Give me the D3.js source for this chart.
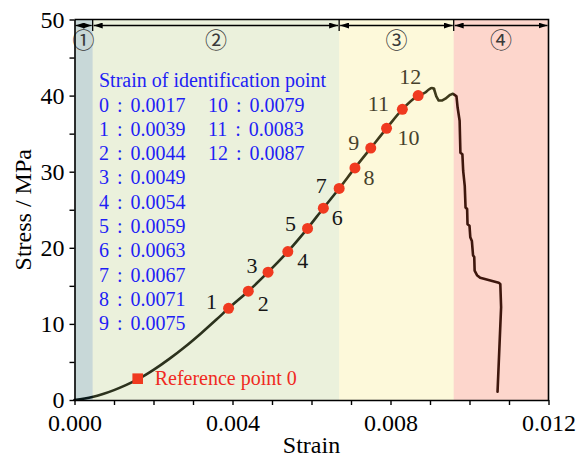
<!DOCTYPE html>
<html>
<head>
<meta charset="utf-8">
<script src="https://cdn.jsdelivr.net/npm/d3@7"></script>
<style>
  html, body { margin: 0; padding: 0; background: #fff; }
  svg { display: block; }
  text { font-family: "Liberation Serif", "Times New Roman", serif; }
</style>
</head>
<body>
<svg id="chart" width="578" height="462"></svg>
<script>
// ---------------- data ----------------
const riseStrain = [0, 0.00045, 0.0007, 0.0010, 0.0013, 0.0016, 0.0020, 0.0024, 0.0028, 0.0032, 0.0036,
  0.0039, 0.0044, 0.0049, 0.0054, 0.0059, 0.0063, 0.0067, 0.0071, 0.0075, 0.0079, 0.0083, 0.0087,
  0.00888, 0.00897, 0.00905, 0.0091];
const riseStress = [0, 0.4, 0.75, 1.3, 1.95, 2.7, 3.95, 5.4, 7.0, 8.75, 10.6,
  12.05, 14.3, 16.8, 19.5, 22.55, 25.2, 27.8, 30.5, 33.1, 35.7, 38.2, 40.0,
  40.4, 40.8, 41.0, 40.9];
const failStrain = [0.0091, 0.00916, 0.00922, 0.0093, 0.00939, 0.00951, 0.00958, 0.00962,
  0.00967, 0.0097, 0.00975, 0.00977, 0.00982, 0.00984, 0.00988, 0.0099, 0.00994, 0.00995, 0.0100,
  0.01002, 0.01006, 0.01009, 0.01012, 0.01013, 0.01019, 0.01027, 0.01074, 0.01078, 0.0108, 0.01071];
const failStress = [40.9, 39.9, 39.35, 39.35, 39.6, 40.1, 40.25, 40.1,
  39.9, 38.4, 36.7, 32.5, 32.3, 30.1, 28.1, 25.3, 25.1, 23.1, 22.9,
  21.4, 20.9, 19.0, 18.8, 17.0, 16.4, 16.05, 15.4, 15.25, 12.2, 1.1];

const pointIds = [1, 2, 3, 4, 5, 6, 7, 8, 9, 10, 11, 12];
const pointStrain = [0.0039, 0.0044, 0.0049, 0.0054, 0.0059, 0.0063, 0.0067, 0.0071, 0.0075, 0.0079, 0.0083, 0.0087];
const pointStress = [12.05, 14.3, 16.8, 19.5, 22.55, 25.2, 27.8, 30.5, 33.1, 35.7, 38.2, 40.0];
// label placement relative to each point (px)
const labelOffsets = [[-17, -7], [15, 12], [-16, -7], [15, 9], [-17, -5], [14, 9], [-18, -3], [14, 10], [-17, -6], [22, 9], [-24, -6], [-8, -19]];

const refPoint = { strain: 0.0016, stress: 2.8, label: "Reference point 0" };

const legendTitle = "Strain of identification point";
const legendIds = [0, 1, 2, 3, 4, 5, 6, 7, 8, 9, 10, 11, 12];
const legendStrain = ["0.0017", "0.0039", "0.0044", "0.0049", "0.0054", "0.0059", "0.0063", "0.0067", "0.0071", "0.0075", "0.0079", "0.0083", "0.0087"];

const regionBounds = [0, 0.00046, 0.0067, 0.0096, 0.012];
const regionLabels = ["①", "②", "③", "④"];
const regionColors = ["#c8d8d8", "#ebf1dc", "#fdf9da", "#fdd6cc"]; // visible tint over white

const xTicks = [0, 0.001, 0.002, 0.003, 0.004, 0.005, 0.006, 0.007, 0.008, 0.009, 0.010, 0.011, 0.012];
const xTickLabels = ["0.000", "", "", "", "0.004", "", "", "", "0.008", "", "", "", "0.012"];
const yTicks = [0, 5, 10, 15, 20, 25, 30, 35, 40, 45, 50];
const yTickLabels = ["0", "", "10", "", "20", "", "30", "", "40", "", "50"];

// ---------------- layout ----------------
const svg = d3.select("#chart");
const L = 74.5, R = 548.5, T = 19.5, B = 400;
const x = d3.scaleLinear().domain([0, 0.012]).range([L, R]);
const y = d3.scaleLinear().domain([0, 50]).range([B, T]);
const overlayAlpha = 0.25;

function overlayColor(hex) {
  const c = d3.rgb(hex);
  const f = v => Math.max(0, Math.min(255, Math.round((v - 255 * (1 - overlayAlpha)) / overlayAlpha)));
  return d3.rgb(f(c.r), f(c.g), f(c.b)).formatHex();
}

// curve: smooth rising branch + stepped failure branch
const rise = riseStrain.map((s, i) => [s, riseStress[i]]);
const fail = failStrain.map((s, i) => [s, failStress[i]]);
svg.append("path")
  .datum(rise)
  .attr("d", d3.line().curve(d3.curveMonotoneX).x(d => x(d[0])).y(d => y(d[1])))
  .attr("fill", "none").attr("stroke", "#000").attr("stroke-width", 2.6)
  .attr("stroke-linejoin", "round").attr("stroke-linecap", "round");
svg.append("path")
  .datum(fail)
  .attr("d", d3.line().x(d => x(d[0])).y(d => y(d[1])))
  .attr("fill", "none").attr("stroke", "#000").attr("stroke-width", 2.6)
  .attr("stroke-linejoin", "round").attr("stroke-linecap", "round");

// region tint overlay
svg.append("g").selectAll("rect")
  .data(regionColors)
  .join("rect")
  .attr("x", (d, i) => x(regionBounds[i]))
  .attr("y", T)
  .attr("width", (d, i) => x(regionBounds[i + 1]) - x(regionBounds[i]))
  .attr("height", B - T)
  .attr("fill", d => overlayColor(d))
  .attr("fill-opacity", overlayAlpha);

// region circled numbers
svg.append("g").selectAll("text")
  .data(regionLabels)
  .join("text")
  .attr("x", (d, i) => (x(regionBounds[i]) + x(regionBounds[i + 1])) / 2)
  .attr("y", 38)
  .attr("text-anchor", "middle")
  .attr("dominant-baseline", "central")
  .attr("font-size", 22)
  .style("font-family", "'Noto Sans CJK JP', 'DejaVu Sans', sans-serif")
  .attr("fill", "#3a3a3a")
  .text(d => d);

// point number labels
svg.append("g").selectAll("text")
  .data(pointIds)
  .join("text")
  .attr("x", (d, i) => x(pointStrain[i]) + labelOffsets[i][0])
  .attr("y", (d, i) => y(pointStress[i]) + labelOffsets[i][1])
  .attr("text-anchor", "middle")
  .attr("dominant-baseline", "central")
  .attr("font-size", 22)
  .attr("fill", d => d >= 8 ? "#46412c" : "#161616")
  .text(d => d);

// axes
const xAxis = d3.axisBottom(x).tickValues(xTicks).tickSize(5).tickSizeOuter(0).tickPadding(9)
  .tickFormat((d, i) => xTickLabels[i]);
const yAxis = d3.axisLeft(y).tickValues(yTicks).tickSize(5).tickSizeOuter(0).tickPadding(5)
  .tickFormat((d, i) => yTickLabels[i]);

const gx = svg.append("g").attr("transform", `translate(0,${B})`).call(xAxis);
const gy = svg.append("g").attr("transform", `translate(${L},0)`).call(yAxis);
[gx, gy].forEach(g => {
  g.attr("font-family", null);
  g.select(".domain").attr("stroke", "#000").attr("stroke-width", 1.6);
  g.selectAll(".tick line").attr("stroke", "#000").attr("stroke-width", 1.4);
  g.selectAll(".tick text").attr("fill", "#000").attr("font-size", 24)
    .style("font-family", "'Liberation Serif', 'Times New Roman', serif");
});
// box top & right
svg.append("path")
  .attr("d", `M${L},${T}H${R}V${B}`)
  .attr("fill", "none").attr("stroke", "#000").attr("stroke-width", 1.6);

// axis titles
svg.append("text")
  .attr("x", (L + R) / 2).attr("y", 453)
  .attr("text-anchor", "middle").attr("font-size", 24).attr("fill", "#000")
  .text("Strain");
svg.append("text")
  .attr("transform", `translate(31,${(T + B) / 2}) rotate(-90)`)
  .attr("text-anchor", "middle").attr("font-size", 24).attr("fill", "#000")
  .text("Stress / MPa");

// top arrows
const defs = svg.append("defs");
defs.append("marker")
  .attr("id", "arr")
  .attr("viewBox", "0 0 9 6")
  .attr("refX", 9).attr("refY", 3)
  .attr("markerWidth", 9).attr("markerHeight", 6)
  .attr("markerUnits", "userSpaceOnUse")
  .attr("orient", "auto-start-reverse")
  .append("path").attr("d", "M0,0L9,3L0,6Z").attr("fill", "#000");

const arrowY = 25.5;
svg.append("g").selectAll("line")
  .data(regionLabels)
  .join("line")
  .attr("x1", (d, i) => x(regionBounds[i]) + 1)
  .attr("x2", (d, i) => x(regionBounds[i + 1]) - 1)
  .attr("y1", arrowY).attr("y2", arrowY)
  .attr("stroke", "#000").attr("stroke-width", 1.3)
  .attr("marker-start", "url(#arr)")
  .attr("marker-end", "url(#arr)");
svg.append("g").selectAll("line")
  .data(regionBounds.slice(1, -1))
  .join("line")
  .attr("x1", d => x(d)).attr("x2", d => x(d))
  .attr("y1", T).attr("y2", 31)
  .attr("stroke", "#000").attr("stroke-width", 1.3);

// red identification points
svg.append("g").selectAll("circle")
  .data(pointIds)
  .join("circle")
  .attr("cx", (d, i) => x(pointStrain[i]))
  .attr("cy", (d, i) => y(pointStress[i]))
  .attr("r", 5.5)
  .attr("fill", "#f03a20");

// reference point
svg.append("rect")
  .attr("x", x(refPoint.strain) - 5.3).attr("y", y(refPoint.stress) - 5.3)
  .attr("width", 10.6).attr("height", 10.6)
  .attr("fill", "#f03a20");
svg.append("text")
  .attr("x", x(refPoint.strain) + 17).attr("y", y(refPoint.stress) + 6.5)
  .attr("font-size", 20).attr("fill", "#f02a22")
  .text(refPoint.label);

// legend text
const lg = svg.append("g").attr("fill", "#1f1ff5").attr("font-size", 20);
lg.append("text").attr("x", 99).attr("y", 87).text(legendTitle);
lg.selectAll("text.row")
  .data(legendIds)
  .join("text")
  .attr("class", "row")
  .attr("x", (d, i) => i < 10 ? 99 : 208)
  .attr("y", (d, i) => 111.5 + (i < 10 ? i : i - 10) * 24.3)
  .attr("word-spacing", 3)
  .attr("xml:space", "preserve")
  .text((d, i) => `${d} : ${legendStrain[i]}`);
</script>
</body>
</html>
